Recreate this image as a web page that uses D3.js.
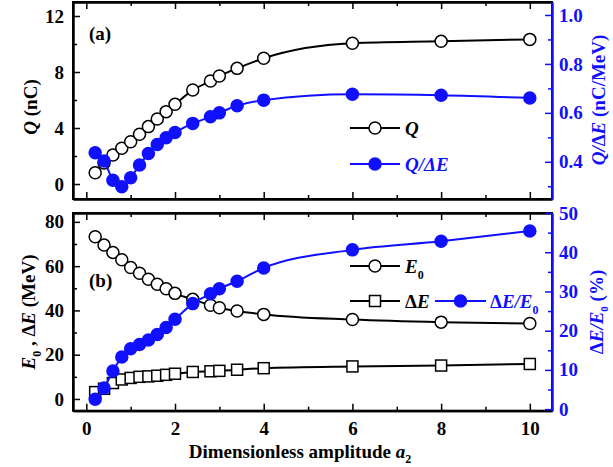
<!DOCTYPE html>
<html lang="en">
<head>
<meta charset="utf-8">
<title>Q and energy spread vs a2</title>
<script src="https://d3js.org/d3.v7.min.js"></script>
<style>
  body { margin: 0; background: #fff; }
  svg text { font-family: "Liberation Serif", "Times New Roman", serif; font-weight: bold; }
</style>
</head>
<body>
<div id="main"></div>
<script>
// amplitude a2 (same for every series)
var a2 = [0.2, 0.4, 0.6, 0.8, 1.0, 1.2, 1.4, 1.6, 1.8, 2.0, 2.4, 2.8, 3.0, 3.4, 4.0, 6.0, 8.0, 10.0];

// panel (a)
var charge  = [0.8, 1.5, 2.07, 2.55, 3.02, 3.55, 4.1, 4.64, 5.17, 5.69, 6.71, 7.36, 7.71, 8.26, 8.98, 10.05, 10.19, 10.33];
var qPerDE  = [0.437, 0.403, 0.325, 0.298, 0.335, 0.387, 0.434, 0.471, 0.498, 0.52, 0.557, 0.584, 0.60, 0.629, 0.652, 0.676, 0.672, 0.661];

// panel (b)
var energy  = [73.3, 69.5, 66.2, 62.9, 59.4, 56.8, 54.1, 51.8, 49.8, 47.7, 45.0, 42.3, 41.2, 39.7, 38.2, 35.9, 34.7, 34.1];
var spread  = [3.1, 4.6, 7.2, 8.8, 9.5, 10.0, 10.2, 10.5, 10.9, 11.4, 12.2, 12.5, 12.7, 13.2, 13.9, 14.7, 15.1, 15.8];
var relSpread = [2.5, 5.4, 9.7, 13.3, 15.4, 16.5, 17.6, 19.0, 20.8, 22.9, 26.9, 29.4, 30.7, 32.6, 36.0, 40.6, 42.8, 45.4];

var xTicks = [0, 2, 4, 6, 8, 10];
var xMinor = [1, 3, 5, 7, 9];
var yaTicks = [0, 4, 8, 12], yaMinor = [2, 6, 10];
var yarTicks = [0.4, 0.6, 0.8, 1.0], yarMinor = [0.3, 0.5, 0.7, 0.9];
var ybTicks = [0, 20, 40, 60, 80], ybMinor = [10, 30, 50, 70];
var ybrTicks = [0, 10, 20, 30, 40, 50], ybrMinor = [5, 15, 25, 35, 45];

var blue = "#1010ff";
var width = 613, height = 467;
var left = 73, right = 552;
var fs = 19;

var svg = d3.select("#main").append("svg")
  .attr("width", width)
  .attr("height", height);

var x = d3.scaleLinear().domain([-0.3, 10.5]).range([left, right]);

var yA  = d3.scaleLinear().domain([-1.07, 13]).range([199, 2]);
var yAr = d3.scaleLinear().domain([0.248, 1.053]).range([199, 2]);
var yB  = d3.scaleLinear().domain([-5.3, 84]).range([410.7, 213]);
var yBr = d3.scaleLinear().domain([-0.4, 50]).range([410.7, 213]);

function styleAxis(g, col) {
  g.selectAll("path").attr("stroke", col).attr("stroke-width", 2);
  g.selectAll("line").attr("stroke", col).attr("stroke-width", 1.5);
  g.selectAll("text").attr("fill", col).attr("font-size", fs)
    .attr("font-family", "Liberation Serif, serif").attr("font-weight", "bold");
}

function panel(yl, yr, lt, lm, rt, rm, fmtR, showX) {
  var top = yl.range()[1], bot = yl.range()[0];
  var g = svg.append("g");

  // frame
  g.append("rect")
    .attr("x", left).attr("y", top)
    .attr("width", right - left).attr("height", bot - top)
    .attr("fill", "none").attr("stroke", "black").attr("stroke-width", 2);

  // bottom axis
  g.append("g").attr("transform", "translate(0," + bot + ")")
    .call(d3.axisBottom(x).tickValues(xTicks).tickSize(-7).tickSizeOuter(0).tickPadding(11)
      .tickFormat(showX ? d3.format("d") : ""))
    .call(styleAxis, "black");
  g.append("g").attr("transform", "translate(0," + bot + ")")
    .call(d3.axisBottom(x).tickValues(xMinor).tickSize(-4).tickSizeOuter(0).tickFormat(""))
    .call(styleAxis, "black");
  // top ticks
  g.append("g").attr("transform", "translate(0," + top + ")")
    .call(d3.axisTop(x).tickValues(xTicks).tickSize(-7).tickSizeOuter(0).tickFormat(""))
    .call(styleAxis, "black");
  g.append("g").attr("transform", "translate(0," + top + ")")
    .call(d3.axisTop(x).tickValues(xMinor).tickSize(-4).tickSizeOuter(0).tickFormat(""))
    .call(styleAxis, "black");

  // left axis
  g.append("g").attr("transform", "translate(" + left + ",0)")
    .call(d3.axisLeft(yl).tickValues(lt).tickSize(-7).tickSizeOuter(0).tickPadding(9).tickFormat(d3.format("d")))
    .call(styleAxis, "black");
  g.append("g").attr("transform", "translate(" + left + ",0)")
    .call(d3.axisLeft(yl).tickValues(lm).tickSize(-4).tickSizeOuter(0).tickFormat(""))
    .call(styleAxis, "black");

  // right axis (blue)
  g.append("g").attr("transform", "translate(" + right + ",0)")
    .call(d3.axisRight(yr).tickValues(rt).tickSize(-7).tickSizeOuter(0).tickPadding(7).tickFormat(fmtR))
    .call(styleAxis, blue);
  g.append("g").attr("transform", "translate(" + right + ",0)")
    .call(d3.axisRight(yr).tickValues(rm).tickSize(-4).tickSizeOuter(0).tickFormat(""))
    .call(styleAxis, blue);

  return g;
}

var ga = panel(yA, yAr, yaTicks, yaMinor, yarTicks, yarMinor, d3.format(".1f"), false);
var gb = panel(yB, yBr, ybTicks, ybMinor, ybrTicks, ybrMinor, d3.format("d"), true);

function series(g, vals, y, col, shape) {
  var pts = a2.map(function(d, i) { return [x(d), y(vals[i])]; });
  g.append("path")
    .attr("d", d3.line().curve(d3.curveMonotoneX)(pts))
    .attr("fill", "none").attr("stroke", col).attr("stroke-width", 2);
  if (shape == "square") {
    g.selectAll(null).data(pts).enter().append("rect")
      .attr("x", function(d) { return d[0] - 5.5; })
      .attr("y", function(d) { return d[1] - 5.5; })
      .attr("width", 11).attr("height", 11)
      .attr("fill", "white").attr("stroke", col).attr("stroke-width", 1.5);
  } else {
    g.selectAll(null).data(pts).enter().append("circle")
      .attr("cx", function(d) { return d[0]; })
      .attr("cy", function(d) { return d[1]; })
      .attr("r", 6)
      .attr("fill", shape == "filled" ? col : "white")
      .attr("stroke", col).attr("stroke-width", 1.5);
  }
}

series(ga, charge, yA, "black", "open");
series(ga, qPerDE, yAr, blue, "filled");

series(gb, energy, yB, "black", "open");
series(gb, spread, yB, "black", "square");
series(gb, relSpread, yBr, blue, "filled");

// legend helper
function legendItem(x0, x1, y, col, shape) {
  svg.append("line").attr("x1", x0).attr("x2", x1).attr("y1", y).attr("y2", y)
    .attr("stroke", col).attr("stroke-width", 2);
  var cx = (x0 + x1) / 2;
  if (shape == "square") {
    svg.append("rect").attr("x", cx - 5.5).attr("y", y - 5.5).attr("width", 11).attr("height", 11)
      .attr("fill", "white").attr("stroke", col).attr("stroke-width", 1.5);
  } else {
    svg.append("circle").attr("cx", cx).attr("cy", y).attr("r", 6)
      .attr("fill", shape == "filled" ? col : "white").attr("stroke", col).attr("stroke-width", 1.5);
  }
}

legendItem(350, 400, 128, "black", "open");
svg.append("text").attr("x", 405).attr("y", 135).attr("font-size", fs)
  .append("tspan").attr("font-style", "italic").text("Q");
legendItem(350, 400, 164, blue, "filled");
var t = svg.append("text").attr("x", 405).attr("y", 171).attr("font-size", fs).attr("fill", blue)
  .attr("font-style", "italic");
t.append("tspan").text("Q/ΔE");

legendItem(350, 400, 266, "black", "open");
t = svg.append("text").attr("x", 405).attr("y", 273).attr("font-size", fs);
t.append("tspan").attr("font-style", "italic").text("E");
t.append("tspan").attr("font-size", 12).attr("dy", 6).text("0");

legendItem(350, 400, 301, "black", "square");
t = svg.append("text").attr("x", 405).attr("y", 308).attr("font-size", fs);
t.append("tspan").text("Δ");
t.append("tspan").attr("font-style", "italic").text("E");

legendItem(435, 486, 301, blue, "filled");
t = svg.append("text").attr("x", 490).attr("y", 308).attr("font-size", fs).attr("fill", blue);
t.append("tspan").text("Δ");
t.append("tspan").attr("font-style", "italic").text("E/E");
t.append("tspan").attr("font-size", 12).attr("dy", 6).text("0");

// panel labels
svg.append("text").attr("x", 89).attr("y", 40).attr("font-size", fs).text("(a)");
svg.append("text").attr("x", 89).attr("y", 287).attr("font-size", fs).text("(b)");

// axis titles
t = svg.append("text").attr("transform", "translate(37,107) rotate(-90)")
  .attr("text-anchor", "middle").attr("font-size", fs);
t.append("tspan").attr("font-style", "italic").text("Q");
t.append("tspan").text(" (nC)");

t = svg.append("text").attr("transform", "translate(35,312) rotate(-90)")
  .attr("text-anchor", "middle").attr("font-size", fs);
t.append("tspan").attr("font-style", "italic").text("E");
t.append("tspan").attr("font-size", 12).attr("dy", 6).text("0");
t.append("tspan").attr("dy", -6).text(" , Δ");
t.append("tspan").attr("font-style", "italic").text("E");
t.append("tspan").text(" (MeV)");

t = svg.append("text").attr("transform", "translate(605,100) rotate(-90)")
  .attr("text-anchor", "middle").attr("font-size", fs).attr("fill", blue);
t.append("tspan").attr("font-style", "italic").text("Q/");
t.append("tspan").text("Δ");
t.append("tspan").attr("font-style", "italic").text("E");
t.append("tspan").text(" (nC/MeV)");

t = svg.append("text").attr("transform", "translate(603,312) rotate(-90)")
  .attr("text-anchor", "middle").attr("font-size", fs).attr("fill", blue);
t.append("tspan").text("Δ");
t.append("tspan").attr("font-style", "italic").text("E/E");
t.append("tspan").attr("font-size", 11).attr("dy", 5).text("0");
t.append("tspan").attr("dy", -5).text(" (%)");

t = svg.append("text").attr("x", 300).attr("y", 458).attr("text-anchor", "middle").attr("font-size", fs);
t.append("tspan").text("Dimensionless amplitude ");
t.append("tspan").attr("font-style", "italic").text("a");
t.append("tspan").attr("font-size", 12).attr("dy", 5).text("2");
</script>
</body>
</html>
